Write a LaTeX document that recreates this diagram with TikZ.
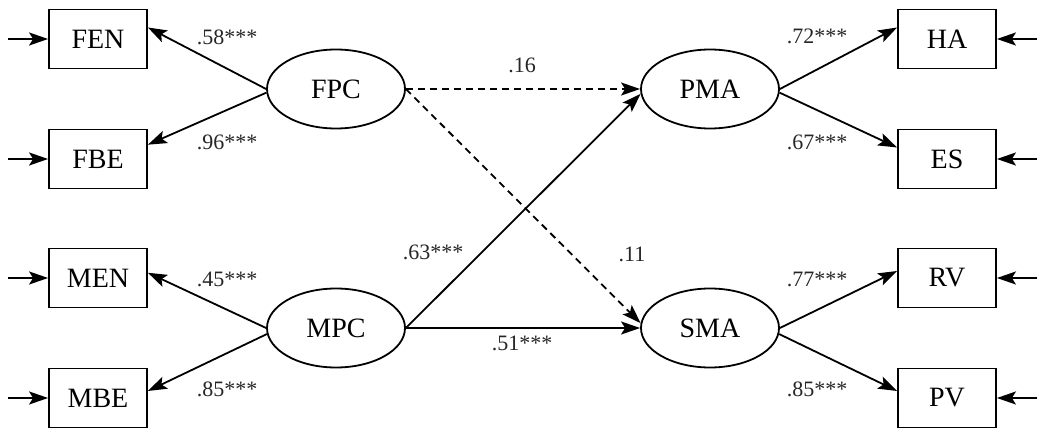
\documentclass[tikz,border=0pt]{standalone}
\usepackage{fontspec}
\setmainfont{Liberation Serif}
\usetikzlibrary{arrows.meta,shapes.geometric}
\tikzset{
  obs/.style={draw,rectangle,minimum width=98pt,minimum height=59pt,inner sep=0pt,font=\fontsize{28}{30}\selectfont},
  lat/.style={draw,ellipse,minimum width=138pt,minimum height=79pt,inner sep=0pt,font=\fontsize{28}{30}\selectfont},
  coef/.style={inner sep=0pt,font=\fontsize{22}{24}\selectfont,text=black!85},
}
\begin{document}
\begin{tikzpicture}[x=1pt,y=-1pt,line width=1.8pt,
    >={Stealth[length=19pt,width=13pt,inset=4pt]},->]
  \useasboundingbox (0,0) rectangle (1039,428);
  % observed variables
  \node[obs] (FEN) at (98,39) {FEN};
  \node[obs] (FBE) at (98,159) {FBE};
  \node[obs] (MEN) at (98,278) {MEN};
  \node[obs] (MBE) at (98,398) {MBE};
  \node[obs] (HA) at (947,39) {HA};
  \node[obs] (ES) at (947,159) {ES};
  \node[obs] (RV) at (947,278) {RV};
  \node[obs] (PV) at (947,398) {PV};
  % latent variables
  \node[lat] (FPC) at (336,89) {FPC};
  \node[lat] (MPC) at (336,328) {MPC};
  \node[lat] (PMA) at (710,89) {PMA};
  \node[lat] (SMA) at (710,328) {SMA};
  % error terms
  \coordinate (eFEN) at (8,39);
  \coordinate (eFBE) at (8,159);
  \coordinate (eMEN) at (8,278);
  \coordinate (eMBE) at (8,398);
  \coordinate (eHA) at (1037,39);
  \coordinate (eES) at (1037,159);
  \coordinate (eRV) at (1037,278);
  \coordinate (ePV) at (1037,398);
  \foreach \v in {FEN,FBE,MEN,MBE}
    \draw (e\v) -- (\v.west);
  \foreach \v in {HA,ES,RV,PV}
    \draw (e\v) -- (\v.east);
  % loadings
  \draw (FPC.west) -- (FEN.13);
  \draw (FPC.183) -- (FBE.16);
  \draw (MPC.west) -- (MEN.6);
  \draw (MPC.185) -- (MBE.8);
  \draw (PMA.east) -- (HA.167);
  \draw (PMA.357) -- (ES.167);
  \draw (SMA.east) -- (RV.172);
  \draw (SMA.355) -- (PV.172);
  % paths
  \draw[dash pattern=on 7pt off 5pt] (FPC.east) -- (PMA.west);
  \draw[dash pattern=on 7pt off 5pt] (FPC.east) -- (SMA.176);
  \draw (MPC.east) -- (PMA.184);
  \draw (MPC.east) -- (SMA.west);
  % coefficients
  \node[coef] (c1) at (227,37) {.58***};
  \node[coef] (c2) at (227,142) {.96***};
  \node[coef] (c3) at (227,279) {.45***};
  \node[coef] (c4) at (227,389) {.85***};
  \node[coef] (c5) at (817,36) {.72***};
  \node[coef] (c6) at (817,142) {.67***};
  \node[coef] (c7) at (817,279) {.77***};
  \node[coef] (c8) at (817,389) {.85***};
  \node[coef] (c9) at (522,65) {.16};
  \node[coef] (c10) at (632,254) {.11};
  \node[coef] (c11) at (433,252) {.63***};
  \node[coef] (c12) at (522,343) {.51***};
\end{tikzpicture}
\end{document}
